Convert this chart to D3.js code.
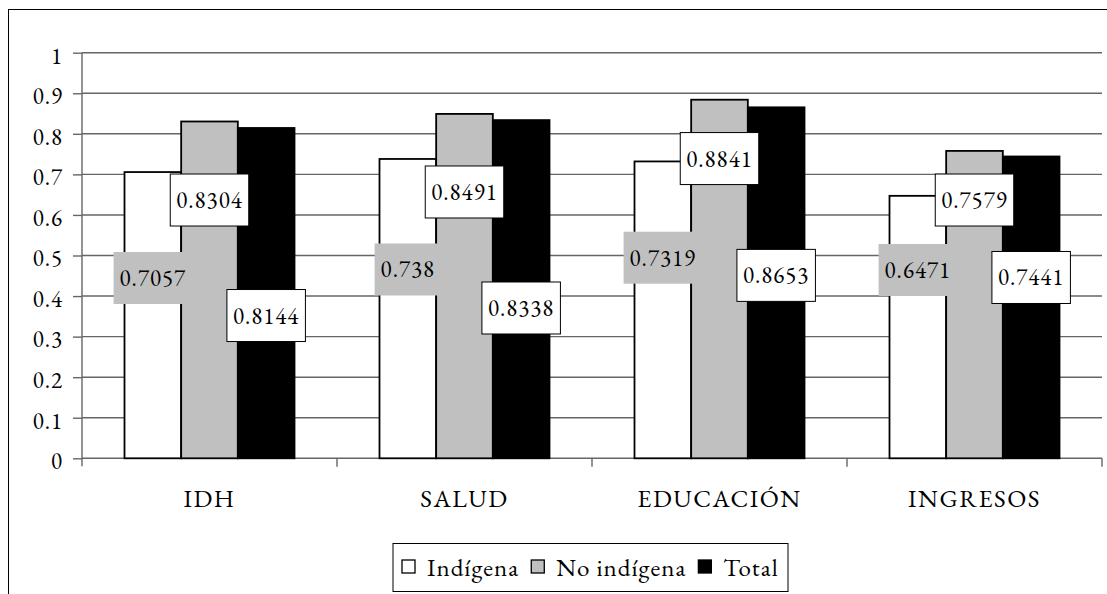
<!DOCTYPE html>
<html>
<head>
<meta charset="utf-8">
<script src="https://cdn.jsdelivr.net/npm/d3@7"></script>
<style>
  html, body { margin: 0; padding: 0; background: #fff; }
  svg { display: block; }
</style>
</head>
<body>
<svg id="chart" width="1107" height="594"></svg>
<script>
// ---- data ----
const categories = ["IDH", "SALUD", "EDUCACIÓN", "INGRESOS"];
const seriesNames = ["Indígena", "No indígena", "Total"];
const indigena   = [0.7057, 0.738, 0.7319, 0.6471];
const noIndigena = [0.8304, 0.8491, 0.8841, 0.7579];
const total      = [0.8144, 0.8338, 0.8653, 0.7441];
const yTicks = [0, 0.1, 0.2, 0.3, 0.4, 0.5, 0.6, 0.7, 0.8, 0.9, 1];
const yTickLabels = ["0", "0.1", "0.2", "0.3", "0.4", "0.5", "0.6", "0.7", "0.8", "0.9", "1"];
const seriesValues = [indigena, noIndigena, total];

// ---- layout / style (not data) ----
const FONT = "'EB Garamond', 'Liberation Serif', serif";
const seriesFill = ["#ffffff", "#c0c0c0", "#000000"];
const labelBoxFill = ["#c0c0c0", "#ffffff", "#ffffff"];
const labelBoxStroke = ["none", "#000", "#000"];
// vertical centre of each data-label box, in axis units (as placed in the original)
const labelCenterIndigena   = [0.4445, 0.4655, 0.4946, 0.4643];
const labelCenterNoIndigena = [0.6368, 0.6566, 0.739, 0.6368];
const labelCenterTotal      = [0.352, 0.3706, 0.451, 0.4458];
const labelCenters = [labelCenterIndigena, labelCenterNoIndigena, labelCenterTotal];

const svg = d3.select("#chart");
const plot = { left: 82, right: 1102, top: 52.7, bottom: 458.3 };

// outer frame
svg.append("rect").attr("x", 8.5).attr("y", 9.5).attr("width", 1110).attr("height", 600)
  .attr("fill", "none").attr("stroke", "#000").attr("stroke-width", 1);

const x = d3.scaleBand().domain(categories).range([plot.left, plot.right]).padding(0);
const xSub = d3.scaleBand().domain(seriesNames).range([0, x.bandwidth()]).paddingInner(0).paddingOuter(0.75);
const y = d3.scaleLinear().domain([0, 1]).range([plot.bottom, plot.top]);

// gridlines
svg.append("g").selectAll("line").data(yTicks.filter(d => d > 0)).join("line")
  .attr("x1", plot.left).attr("x2", plot.right)
  .attr("y1", d => y(d)).attr("y2", d => y(d))
  .attr("stroke", "#666").attr("stroke-width", 1.4);

// y axis
const yAxis = d3.axisLeft(y).tickValues(yTicks).tickSize(9).tickPadding(10)
  .tickFormat((d, i) => yTickLabels[i]);
const gy = svg.append("g").attr("transform", `translate(${plot.left},0)`).call(yAxis);
gy.attr("font-family", null).attr("font-size", null);
gy.select(".domain").attr("stroke", "#666").attr("stroke-width", 1.4)
  .attr("d", `M0,${plot.top}V${plot.bottom + 8}`);
gy.selectAll(".tick line").attr("stroke", "#666").attr("stroke-width", 1.4);
gy.selectAll(".tick text").style("font-family", FONT).style("font-size", "23px")
  .style("letter-spacing", "1px")
  .attr("fill", "#000").attr("dy", "0.45em");

// x axis
const xAxis = d3.axisBottom(x).tickSize(0).tickFormat(() => "");
const gx = svg.append("g").attr("transform", `translate(0,${plot.bottom})`).call(xAxis);
gx.select(".domain").attr("stroke", "#666").attr("stroke-width", 1.4)
  .attr("d", `M${plot.left},0H${plot.right}`);
gx.selectAll(".tick").remove();
svg.append("g").selectAll("line").data(categories).join("line")
  .attr("x1", d => x(d) + x.bandwidth()).attr("x2", d => x(d) + x.bandwidth())
  .attr("y1", plot.bottom).attr("y2", plot.bottom + 8.5)
  .attr("stroke", "#666").attr("stroke-width", 1.4);

// category labels
svg.append("g").selectAll("text").data(categories).join("text")
  .attr("x", d => x(d) + x.bandwidth() / 2)
  .attr("y", 507)
  .attr("text-anchor", "middle")
  .style("font-family", FONT).style("font-size", "25px")
  .style("letter-spacing", "1.5px")
  .attr("fill", "#000")
  .text(d => d);

// bars
const flat = [];
seriesNames.forEach((s, si) => categories.forEach((c, ci) => {
  flat.push({ s, si, c, ci, v: seriesValues[si][ci], ly: labelCenters[si][ci] });
}));

svg.append("g").selectAll("rect").data(flat).join("rect")
  .attr("x", d => x(d.c) + xSub(d.s))
  .attr("y", d => y(d.v))
  .attr("width", xSub.bandwidth())
  .attr("height", d => y(0) - y(d.v))
  .attr("fill", d => seriesFill[d.si])
  .attr("stroke", "#000").attr("stroke-width", 1.8);

// data labels
const lg = svg.append("g");
flat.forEach(d => {
  const cx = x(d.c) + xSub(d.s) + xSub.bandwidth() / 2;
  const cy = y(d.ly);
  const g = lg.append("g");
  const t = g.append("text").attr("x", cx).attr("y", cy + 8)
    .attr("text-anchor", "middle")
    .style("font-family", FONT).style("font-size", "23px")
    .style("letter-spacing", "1px")
    .attr("fill", "#000").text(String(d.v));
  const w = t.node().getComputedTextLength() + 12;
  g.insert("rect", "text")
    .attr("x", cx - w / 2).attr("y", cy - 26)
    .attr("width", w).attr("height", 52)
    .attr("fill", labelBoxFill[d.si])
    .attr("stroke", labelBoxStroke[d.si]).attr("stroke-width", 1);
});

// legend
const legend = svg.append("g");
legend.append("rect").attr("x", 393).attr("y", 543.5).attr("width", 395).attr("height", 48)
  .attr("fill", "#fff").attr("stroke", "#000").attr("stroke-width", 1);
let lx = 402;
seriesNames.forEach((s, i) => {
  legend.append("rect").attr("x", lx).attr("y", 560).attr("width", 13).attr("height", 13)
    .attr("fill", seriesFill[i]).attr("stroke", "#000").attr("stroke-width", 1.3);
  const t = legend.append("text").attr("x", lx + 25).attr("y", 576)
    .style("font-family", FONT).style("font-size", "25px")
    .style("letter-spacing", "1px")
    .attr("fill", "#000").text(s);
  lx = lx + 25 + t.node().getComputedTextLength() + 12;
});
</script>
</body>
</html>
